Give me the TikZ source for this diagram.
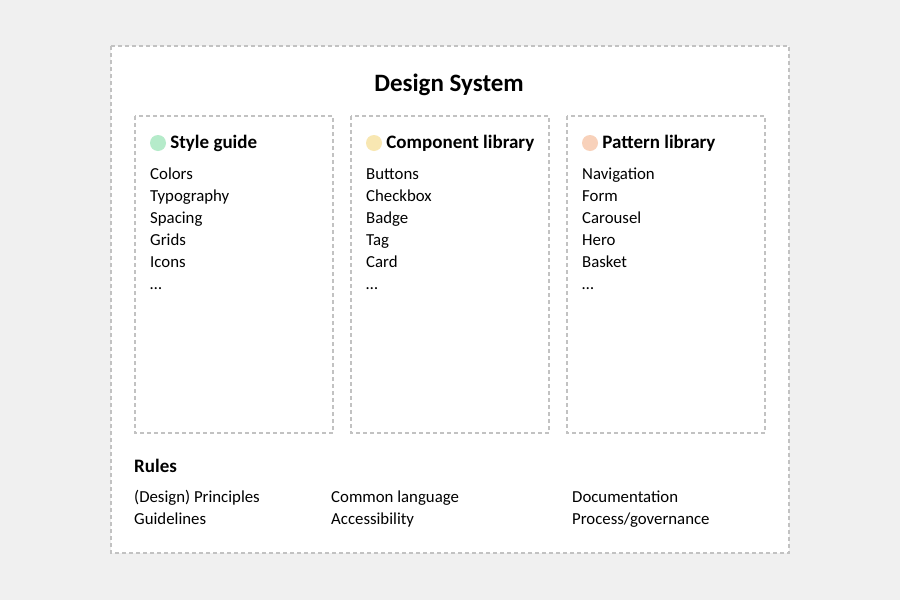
\documentclass[tikz,border=0pt]{standalone}
\usepackage{fontspec}
\setmainfont{Carlito}
\usetikzlibrary{positioning}
\definecolor{pagebg}{HTML}{F0F0F0}
\definecolor{dashgray}{HTML}{C2C2C2}
\definecolor{dotgreen}{HTML}{B5EBCA}
\definecolor{dotyellow}{HTML}{F8E7B2}
\definecolor{dotpeach}{HTML}{F8D1BA}

\begin{document}
\begin{tikzpicture}[x=1pt,y=-1pt,node distance=4pt,
    frame/.style={draw=dashgray,line width=1.3pt,dash pattern=on 4pt off 3pt},
    dot/.style={circle,inner sep=0pt,minimum size=16pt},
    head/.style={inner sep=0pt,text height=12pt,text depth=4pt,font=\fontsize{19}{21}\selectfont\bfseries},
    item/.style={anchor=west,inner sep=0pt,text height=11pt,text depth=3pt,font=\fontsize{16.8}{19}\selectfont}]
  \fill[pagebg] (0,0) rectangle (900,600);
  \useasboundingbox (0,0) rectangle (900,600);
  % outer frame and title
  \draw[frame,fill=white] (111,46) rectangle (789,553);
  \node[head,font=\fontsize{25}{28}\selectfont\bfseries] (title) at (449,87) {Design System};
  % three columns
  \draw[frame] (135,116) rectangle (333,433);
  \draw[frame] (351,116) rectangle (549,433);
  \draw[frame] (567,116) rectangle (765,433);
  \node[dot,fill=dotgreen] (d1) at (158,143) {};
  \node[head,right=of d1,yshift=-1.5pt] (h1) {Style guide};
  \node[dot,fill=dotyellow] (d2) at (374,143) {};
  \node[head,right=of d2,yshift=-1.5pt] (h2) {Component library};
  \node[dot,fill=dotpeach] (d3) at (590,143) {};
  \node[head,right=of d3,yshift=-1.5pt] (h3) {Pattern library};
  \foreach \t [count=\i] in {Colors,Typography,Spacing,Grids,Icons,{\ldots}}
    \node[item] (sg\i) at (150,153+22*\i) {\t};
  \foreach \t [count=\i] in {Buttons,Checkbox,Badge,Tag,Card,{\ldots}}
    \node[item] (cl\i) at (366,153+22*\i) {\t};
  \foreach \t [count=\i] in {Navigation,Form,Carousel,Hero,Basket,{\ldots}}
    \node[item] (pl\i) at (582,153+22*\i) {\t};
  % rules
  \node[head,anchor=west] (rules) at (134,468) {Rules};
  \node[item] (r1) at (134,498) {(Design) Principles};
  \node[item] (r2) at (134,520) {Guidelines};
  \node[item] (r3) at (331,498) {Common language};
  \node[item] (r4) at (331,520) {Accessibility};
  \node[item] (r5) at (572,498) {Documentation};
  \node[item] (r6) at (572,520) {Process/governance};
\end{tikzpicture}
\end{document}
